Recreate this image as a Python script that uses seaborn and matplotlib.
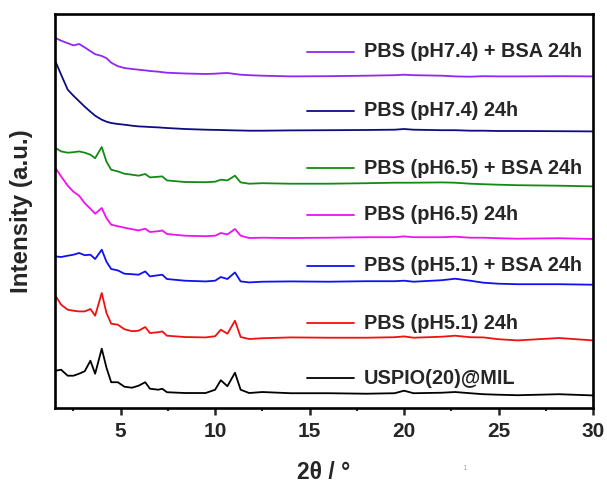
import matplotlib
matplotlib.use("Agg")
import matplotlib.pyplot as plt
import pandas as pd
import seaborn as sns

# 2theta sample positions (degrees)
two_theta = [1.55, 1.85, 2.2, 2.5, 2.8, 3.1, 3.4, 3.65, 4.0, 4.25, 4.5, 4.85, 5.2, 5.6,
             5.95, 6.3, 6.55, 7.0, 7.2, 7.45, 8.4, 9.5, 10.0, 10.3, 10.65, 11.05, 11.35,
             11.8, 12.5, 14.0, 16.0, 18.0, 19.5, 20.0, 20.5, 22.0, 22.7, 23.5, 24.2, 25.0,
             26.0, 28.2, 30.0]

# stacked intensities (a.u., already offset)
uspio_mil = [37, 38, 32, 32, 34, 36.5, 47, 34, 59, 40, 25.5, 25.5, 21, 20, 22, 25.5, 19,
             18, 19, 15.5, 14.7, 14.7, 18, 27.5, 21.5, 35, 18, 14.7, 15.7, 14.5, 14.5, 14,
             14.5, 17, 14.5, 15, 15.7, 14.5, 13.5, 13, 12.5, 13.5, 12.3]
ph51 = [112, 103, 98, 97, 96.3, 96.3, 98.7, 92, 114.7, 94.7, 84, 83, 78.5, 76.5, 77, 80.7,
        74.7, 75.5, 76.3, 72, 70.7, 70.3, 71.5, 78, 74, 87, 70.7, 68.7, 69.5, 70.3, 70, 70,
        70.5, 71.3, 70, 71, 72, 70.5, 70.3, 68.5, 67.3, 69.7, 67.3]
ph51_bsa = [151.3, 150.7, 152, 153, 154.7, 152.5, 153, 148.7, 158, 146, 138.7, 137.3, 134,
            133.5, 133, 136.3, 131.3, 132.5, 133, 128.7, 127, 126.3, 127, 130.7, 128.7,
            135.3, 126.3, 125.3, 126, 126.3, 126, 126.5, 126.5, 127, 126, 127.5, 129, 127,
            125, 124, 123.5, 123.5, 123]
ph65 = [239.7, 231.3, 222, 216, 212, 204.5, 199, 194, 199.7, 189.5, 183, 181.5, 180, 178.5,
        177.3, 179, 175.7, 176.5, 177.3, 173.7, 172, 171.5, 172, 174.7, 173.3, 178.7, 172,
        169.7, 170, 169.7, 170, 170.5, 170.5, 171.3, 170.5, 170.5, 171, 170, 170, 169.5,
        169, 169.5, 168.7]
ph65_bsa = [259.7, 256.3, 255, 255.5, 256.3, 255, 253, 249.5, 260.7, 246, 238, 236.3, 234,
            233, 232, 233.7, 230.3, 231, 231.3, 227.3, 225.7, 225.5, 226, 228, 227.3, 232,
            225.3, 224, 224.5, 224, 224, 224.5, 225, 225, 225, 225.3, 225, 224, 223.5, 223,
            222.5, 222, 221.3]
ph74 = [346.3, 333, 318, 312, 306.5, 301, 296, 292, 288, 286, 284.7, 283.7, 283, 282, 281.3,
        281, 280.7, 280.3, 280, 279.7, 278.7, 278, 277.8, 277.7, 277.5, 277.3, 277.2, 277,
        277, 277.3, 277.5, 277.7, 278, 278.7, 278, 277.5, 277.5, 277, 277, 276.7, 276.7,
        276.5, 276.3]
ph74_bsa = [369.7, 367, 364.5, 362.3, 363.7, 360.3, 356.5, 353.5, 351.7, 349.5, 345, 341.5,
            339.7, 338.7, 338, 337.3, 336.7, 336, 335.5, 335, 334.2, 333.7, 334, 334.4,
            334.7, 333.7, 333, 332.5, 332, 331.3, 331.5, 332, 332.5, 333, 332.5, 332, 331.3,
            331, 331.5, 331.3, 331.3, 331.5, 331.3]

labels = ["PBS (pH7.4) + BSA 24h", "PBS (pH7.4) 24h", "PBS (pH6.5) + BSA 24h",
          "PBS (pH6.5) 24h", "PBS (pH5.1) + BSA 24h", "PBS (pH5.1) 24h", "USPIO(20)@MIL"]
series = [ph74_bsa, ph74, ph65_bsa, ph65, ph51_bsa, ph51, uspio_mil]
colors = ["#9127f0", "#0d0d80", "#138a13", "#f010f0", "#1010f0", "#f01010", "#000000"]

# where each hand-placed legend row sits (axes fraction)
label_y = [0.904, 0.754, 0.608, 0.490, 0.360, 0.214, 0.075]

rows = []
for lab, vals in zip(labels, series):
    for x, v in zip(two_theta, vals):
        rows.append({"two_theta": x, "intensity": v, "sample": lab})
df = pd.DataFrame(rows)

sns.set_style("ticks")
plt.rcParams["font.family"] = ["Liberation Sans", "DejaVu Sans"]
plt.rcParams["font.weight"] = "bold"

fig = plt.figure(figsize=(6.07, 4.84), dpi=100)
ax = fig.add_axes([0.0898, 0.1576, 0.8872, 0.8135])

sns.lineplot(data=df, x="two_theta", y="intensity", hue="sample", hue_order=labels,
             palette=colors, sort=False, linewidth=1.3, legend=False, ax=ax)

ax.set_xlim(1.5, 30)
ax.set_ylim(0, 393.7)
ax.set_xticks([5, 10, 15, 20, 25, 30])
ax.set_xticks([2.5, 7.5, 12.5, 17.5, 22.5, 27.5], minor=True)
ax.set_yticks([])
ax.tick_params(axis="x", which="major", direction="out", length=5, width=1.8,
               labelsize=15, pad=5.5)
ax.tick_params(axis="x", which="minor", direction="out", length=2.5, width=1.5)
for lbl in ax.get_xticklabels():
    lbl.set_fontweight("bold")
for sp in ax.spines.values():
    sp.set_linewidth(1.9)
    sp.set_color("black")

ax.set_xlabel("2θ / °", fontsize=16.5, fontweight="bold")
ax.set_ylabel("Intensity (a.u.)", fontsize=17.4, fontweight="bold")
ax.xaxis.set_label_coords(0.5, -0.135)
ax.yaxis.set_label_coords(-0.040, 0.5)

# legend rows placed next to each trace
for lab, col, yy in zip(labels, colors, label_y):
    ax.plot([0.468, 0.557], [yy, yy], color=col, linewidth=1.3, transform=ax.transAxes)
    ax.text(0.574, yy, lab, transform=ax.transAxes, fontsize=14.3, fontweight="bold",
            va="center", ha="left")

fig.text(0.761, 0.029, "1", fontsize=6, color="#b0b0b0", fontweight="normal")

plt.savefig("out.png", dpi=100)
